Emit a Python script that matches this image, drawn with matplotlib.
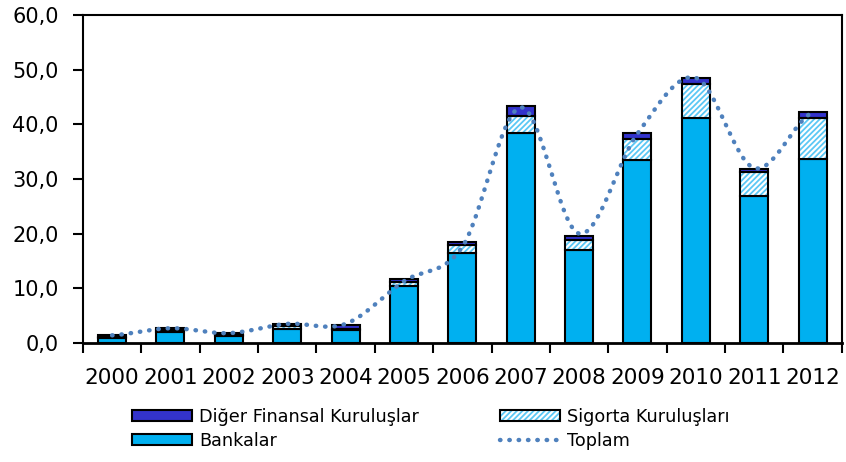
import numpy as np
import matplotlib
matplotlib.use("Agg")
import matplotlib.pyplot as plt
from matplotlib.patches import Patch
from matplotlib.lines import Line2D

years = ["2000", "2001", "2002", "2003", "2004", "2005", "2006",
         "2007", "2008", "2009", "2010", "2011", "2012"]
bankalar = [0.9, 2.0, 1.2, 2.6, 2.3, 10.4, 16.5, 38.5, 17.1, 33.4, 41.2, 26.8, 33.7]
sigorta = [0.2, 0.3, 0.2, 0.5, 0.3, 0.8, 1.5, 3.0, 1.7, 4.0, 6.1, 4.4, 7.5]
diger = [0.3, 0.5, 0.4, 0.4, 0.6, 0.5, 0.5, 1.9, 0.8, 1.1, 1.2, 0.7, 1.1]
toplam = [1.4, 2.7, 1.8, 3.5, 3.5, 11.3, 17.6, 43.1, 20.0, 38.3, 48.5, 32.0, 42.2]

plt.rcParams['font.family'] = ['DejaVu Sans']
plt.rcParams['hatch.linewidth'] = 1.3

HATCH_C = '#5BC8F5'

fig = plt.figure(figsize=(8.46, 4.62), dpi=100)
ax = fig.add_axes([0.098, 0.2576, 0.897, 0.71])

x = np.arange(len(years))
w = 0.48
b = np.array(bankalar)
s = np.array(sigorta)
d = np.array(diger)
ax.bar(x, b, w, color='#00B0F0', edgecolor='black', linewidth=1.5, zorder=2)
ax.bar(x, s, w, bottom=b, color='white', edgecolor=HATCH_C, linewidth=0,
       hatch='//////', zorder=2)
ax.bar(x, s, w, bottom=b, color='none', edgecolor='black', linewidth=1.5, zorder=2.1)
ax.bar(x, d, w, bottom=b + s, color='#3333CC', edgecolor='black', linewidth=1.5, zorder=2)

# smooth (Catmull-Rom) dotted total line
t = np.array(toplam, dtype=float)
px = np.concatenate([[x[0] - (x[1] - x[0])], x, [x[-1] + (x[-1] - x[-2])]]).astype(float)
py = np.concatenate([[t[0]], t, [t[-1]]])
sx, sy = [], []
for i in range(1, len(px) - 2):
    p0, p1, p2, p3 = px[i-1], px[i], px[i+1], px[i+2]
    q0, q1, q2, q3 = py[i-1], py[i], py[i+1], py[i+2]
    for u in np.linspace(0, 1, 30, endpoint=False):
        u2, u3 = u*u, u*u*u
        sx.append(0.5*((2*p1) + (-p0+p2)*u + (2*p0-5*p1+4*p2-p3)*u2 + (-p0+3*p1-3*p2+p3)*u3))
        sy.append(0.5*((2*q1) + (-q0+q2)*u + (2*q0-5*q1+4*q2-q3)*u2 + (-q0+3*q1-3*q2+q3)*u3))
sx.append(x[-1]); sy.append(t[-1])
ax.plot(sx, sy, color='#4F81BD', linewidth=3.2, linestyle=(0, (0.1, 2.0)),
        dash_capstyle='round', zorder=3)

ax.set_xlim(-0.5, len(years) - 0.5)
ax.set_ylim(0, 60)
ax.set_yticks(np.arange(0, 61, 10))
ax.set_yticklabels([f"{v:.1f}".replace('.', ',') for v in np.arange(0, 61, 10)], fontsize=15)
ax.set_xticks(x)
ax.set_xticklabels(years, fontsize=15.5)
ax.set_xticks(np.arange(-0.5, len(years), 1.0), minor=True)
ax.tick_params(axis='x', which='major', length=0, pad=18)
ax.tick_params(axis='x', which='minor', length=7, width=1.5, direction='out')
ax.tick_params(axis='y', length=7.5, width=1.5, direction='out', pad=10)
for sp in ax.spines.values():
    sp.set_linewidth(1.5)
ax.spines['bottom'].set_linewidth(2)

h_sig = (Patch(facecolor='white', edgecolor=HATCH_C, linewidth=0, hatch='//////'),
         Patch(facecolor='none', edgecolor='black', linewidth=1.5))
handles = [Patch(facecolor='#3333CC', edgecolor='black', linewidth=1.5),
           Patch(facecolor='#00B0F0', edgecolor='black', linewidth=1.5),
           h_sig,
           Line2D([], [], color='#4F81BD', linewidth=3.2, linestyle=(0, (0.1, 2.0)),
                  dash_capstyle='round')]
labels = ["Diğer Finansal Kuruluşlar", "Bankalar", "Sigorta Kuruluşları", "Toplam"]
fig.legend(handles, labels, loc='upper left', bbox_to_anchor=(0.148, 0.133),
           ncol=2, frameon=False, fontsize=12.7, handlelength=3.4, handleheight=0.6,
           columnspacing=4.6, labelspacing=0.35, handletextpad=0.4, borderaxespad=0)

fig.savefig("out.png", dpi=100)
